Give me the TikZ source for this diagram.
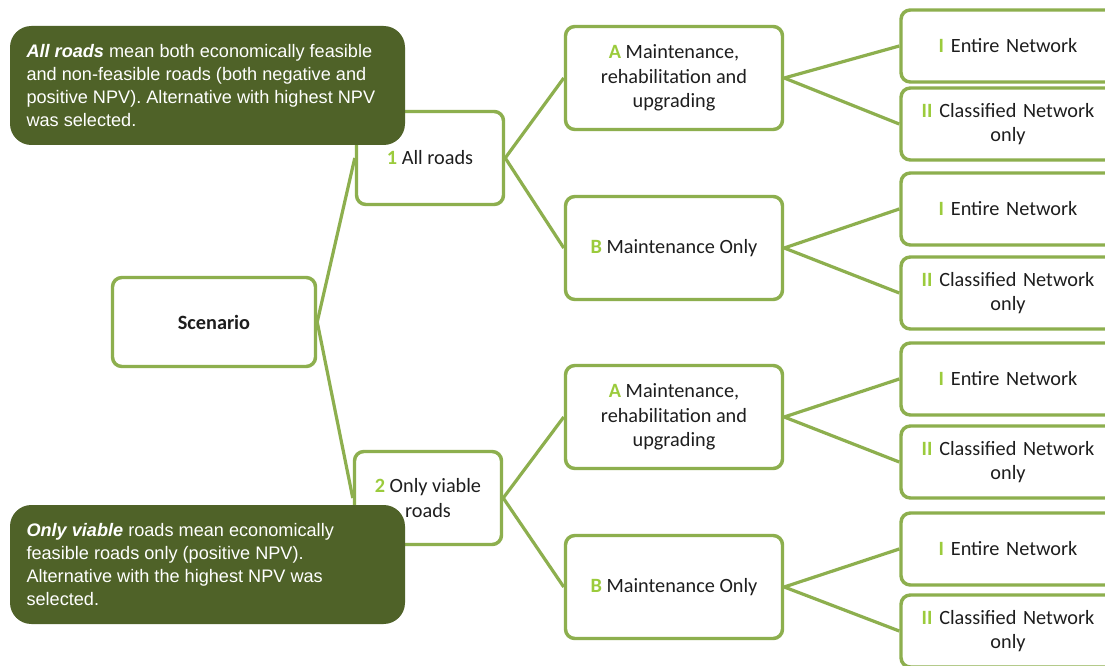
\documentclass[tikz,border=0pt]{standalone}
\usepackage{fontspec}
\setmainfont{Carlito}
\newfontfamily\notefont{Liberation Sans}
\definecolor{branch}{HTML}{8DAF4E}
\definecolor{tag}{HTML}{9BCB3C}
\definecolor{notefill}{HTML}{4F6228}
\definecolor{ink}{HTML}{1E1E1E}
\tikzset{
  box/.style={draw=branch, line width=2.6pt, rounded corners=7pt, fill=white,
    align=center, text=ink, inner sep=0pt,
    font=\fontsize{15.2}{18.5}\selectfont},
  link/.style={draw=branch, line width=2.4pt},
  note/.style={fill=notefill, rounded corners=16pt, text=white,
    align=flush left, inner sep=0pt,
    font=\notefont\fontsize{13.6}{17.1}\selectfont}
}
\newcommand{\tg}[1]{\textcolor{tag}{\textbf{#1}}}
\begin{document}
\begin{tikzpicture}[x=0.75pt,y=-0.75pt]
\useasboundingbox (0,0) rectangle (1105,666);
\fill[white] (0,0) rectangle (1105,666);

% root
\node[box, minimum width=203*0.75pt, minimum height=89*0.75pt] (root) at (214,322) {\textbf{Scenario}};

% first level
\node[box, minimum width=147*0.75pt, minimum height=93*0.75pt] (s1) at (430,158) {\tg{1} All roads};
\node[box, minimum width=147*0.75pt, minimum height=93*0.75pt] (s2) at (428,498) {\tg{2} Only viable\\roads};

% second level
\foreach \n/\y/\t in {a1/78/{\tg{A} Maintenance,\\rehabilitation and\\upgrading},
                      b1/248/{\tg{B} Maintenance Only},
                      a2/417/{\tg{A} Maintenance,\\rehabilitation and\\upgrading},
                      b2/587/{\tg{B} Maintenance Only}}
  \node[box, minimum width=217*0.75pt, minimum height=103*0.75pt] (\n) at (674,\y) {\t};

% third level (boxes run past the right edge)
\foreach \n/\y/\t in {a1i/46/{\tg{I} Entire Network}, a1ii/124/{\tg{II} Classified Network\\only},
                      b1i/209/{\tg{I} Entire Network}, b1ii/293/{\tg{II} Classified Network\\only},
                      a2i/379/{\tg{I} Entire Network}, a2ii/462/{\tg{II} Classified Network\\only},
                      b2i/549/{\tg{I} Entire Network}, b2ii/631/{\tg{II} Classified Network\\only}}
  \node[box, minimum width=214*0.75pt, minimum height=72*0.75pt, text width=206*0.75pt] (\n) at (1008,\y) {\t};

% connectors
\draw[link] (root.east) -- (s1.west);
\draw[link] (root.east) -- (s2.west);
\draw[link] (s1.east) -- (a1.west);
\draw[link] (s1.east) -- (b1.west);
\draw[link] (s2.east) -- (a2.west);
\draw[link] (s2.east) -- (b2.west);
\foreach \p in {a1,b1,a2,b2}{
  \draw[link] (\p.east) -- (\p i.west);
  \draw[link] (\p.east) -- (\p ii.west);
}

% notes
\node[note, minimum width=395*0.75pt, minimum height=119*0.75pt, text width=362*0.75pt] (n1) at (207.5,85.5)
  {\textbf{\textit{All roads}} mean both economically feasible\\and non-feasible roads (both negative and\\positive NPV). Alternative with highest NPV\\was selected.};
\node[note, minimum width=395*0.75pt, minimum height=119*0.75pt, text width=362*0.75pt] (n2) at (207.5,564.5)
  {\textbf{\textit{Only viable}} roads mean economically\\feasible roads only (positive NPV).\\Alternative with the highest NPV was\\selected.};
\end{tikzpicture}
\end{document}
